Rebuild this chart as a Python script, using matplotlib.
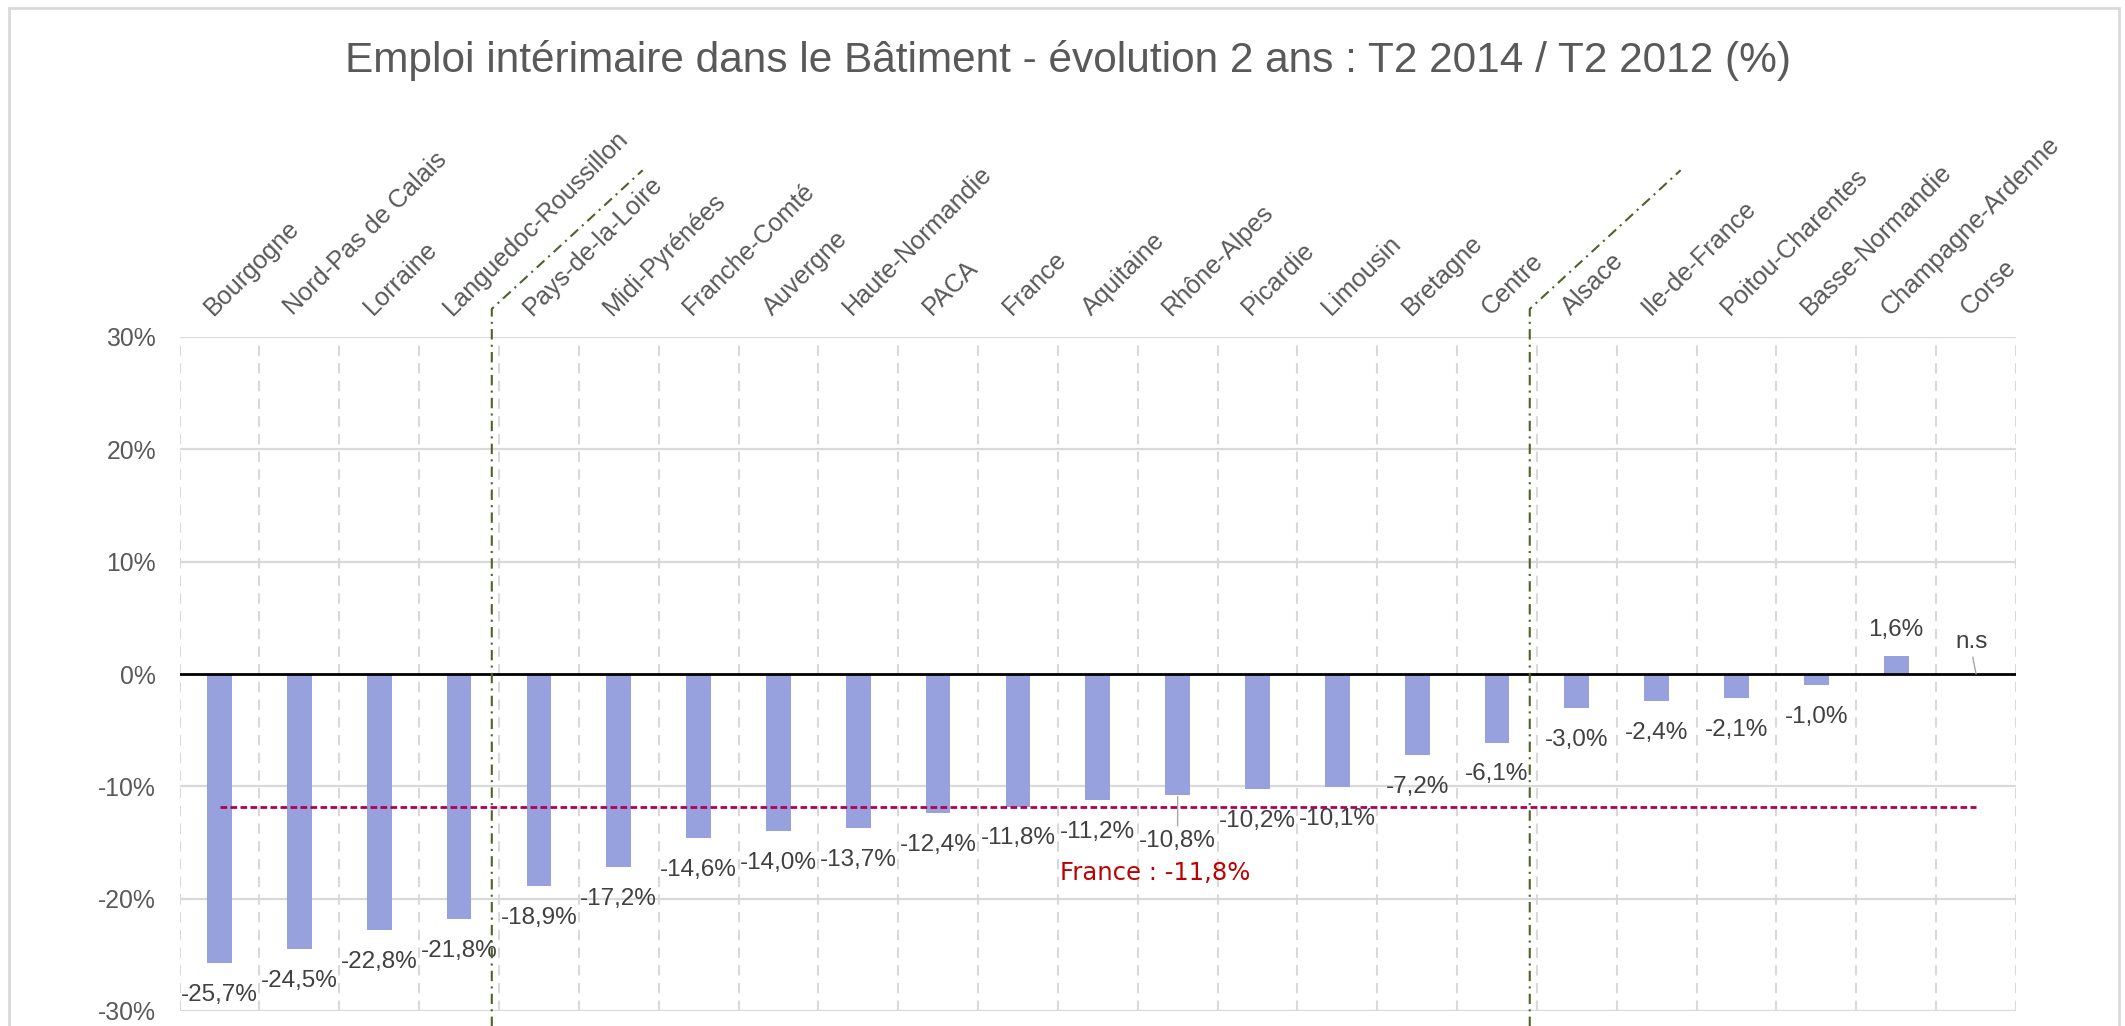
import matplotlib
matplotlib.use("Agg")
import matplotlib.pyplot as plt
from matplotlib.patches import Rectangle
import numpy as np

plt.rcParams['font.family'] = ['Liberation Sans', 'DejaVu Sans']

# ---------------- data ----------------
regions = ["Bourgogne", "Nord-Pas de Calais", "Lorraine", "Languedoc-Roussillon",
           "Pays-de-la-Loire", "Midi-Pyrénées", "Franche-Comté", "Auvergne",
           "Haute-Normandie", "PACA", "France", "Aquitaine", "Rhône-Alpes",
           "Picardie", "Limousin", "Bretagne", "Centre", "Alsace", "Ile-de-France",
           "Poitou-Charentes", "Basse-Normandie", "Champagne-Ardenne", "Corse"]
values = [-25.7, -24.5, -22.8, -21.8, -18.9, -17.2, -14.6, -14.0, -13.7, -12.4,
          -11.8, -11.2, -10.8, -10.2, -10.1, -7.2, -6.1, -3.0, -2.4, -2.1, -1.0,
          1.6, None]
not_significant_label = "n.s"
france_value = -11.8
y_ticks = [-30, -20, -10, 0, 10, 20, 30]
group_starts = [4, 17]   # first region of each new group
title = "Emploi intérimaire dans le Bâtiment - évolution 2 ans : T2 2014 / T2 2012 (%)"


def fmt(v):
    return f"{v:.1f}%".replace(".", ",")


W, H = 2125, 1026
fig = plt.figure(figsize=(W / 100, H / 100), dpi=100)
left, right, top, bottom = 179.6, 2016, 337, 1011
ax = fig.add_axes([left / W, 1 - bottom / H, (right - left) / W, (bottom - top) / H])

n = len(regions)
x = np.arange(n)
ax.set_xlim(-0.5, n - 0.5)
ax.set_ylim(y_ticks[0], y_ticks[-1])

# grid
for t in y_ticks:
    if t == 0:
        continue
    ax.axhline(t, color="#D9D9D9", lw=1.6, zorder=1)
for b in np.arange(-0.5, n):
    ax.axvline(b, color="#D9D9D9", lw=1.5, ls=(0, (5, 3.5)), zorder=1)

# bars
bx = [i for i, v in zip(x, values) if v is not None]
bv = [v for v in values if v is not None]
ax.bar(bx, bv, width=0.31, color="#97A1DD", zorder=3)

ax.axhline(0, color="black", lw=2.0, zorder=4)

# France reference line
ax.plot([x[0], x[-1]], [france_value, france_value], color="#B0004F", lw=2.0,
        ls=(0, (2.4, 1.2)), zorder=5)
ax.text(11.72, -17.7, f"France : {fmt(france_value)}", color="#C00000",
        ha="center", va="center", fontsize=17.5, family=["DejaVu Sans"], zorder=6)

# data labels
extra_drop = {12: -10}
for i, v in zip(x, values):
    if v is None:
        ax.annotate(not_significant_label, xy=(i, 0), xytext=(-3, 23),
                    textcoords="offset points", ha="center", va="center",
                    fontsize=17.5, color="#404040", zorder=6,
                    arrowprops=dict(arrowstyle="-", color="#A6A6A6", lw=1,
                                    shrinkA=1, shrinkB=0, relpos=(0.5, 0)))
        continue
    off = 19 if v > 0 else -23
    if i in extra_drop:
        off += extra_drop[i]
        ax.annotate(fmt(v), xy=(i, v), xytext=(0, off), textcoords="offset points",
                    ha="center", va="center", fontsize=17.5, color="#404040", zorder=6,
                    arrowprops=dict(arrowstyle="-", color="#A6A6A6", lw=1,
                                    shrinkA=1, shrinkB=1, relpos=(0.5, 1)))
    else:
        ax.annotate(fmt(v), xy=(i, v), xytext=(0, off), textcoords="offset points",
                    ha="center", va="center", fontsize=17.5, color="#404040", zorder=6)

# category labels at the top
for i, name in zip(x, regions):
    ax.annotate(name, xy=(i, 1), xycoords=("data", "axes fraction"),
                xytext=(-4.5, 15), textcoords="offset points", rotation=45,
                rotation_mode="anchor", ha="left", va="baseline", fontsize=18.2,
                color="#595959", annotation_clip=False)

# group separators
for g in group_starts:
    xv = g - 0.5 - 0.09
    ax.plot([xv, xv, xv + 1.89], [-31.5, 32.5, 44.85], color="#4F6228", lw=1.5,
            ls=(0, (5, 2.5, 1, 2.5)), clip_on=False, zorder=6)

# axes styling
for s in ax.spines.values():
    s.set_visible(False)
ax.set_xticks([])
ax.set_yticks(y_ticks)
ax.set_yticklabels([f"{t}%" for t in y_ticks], fontsize=17.8, color="#595959")
ax.tick_params(axis="y", length=0, pad=17)

# title and border
fig.text(1068 / W, 1 - 72 / H, title, ha="center", va="baseline", fontsize=30.5,
         color="#595959")
fig.add_artist(Rectangle((9 / W, -0.05), (2119 - 9) / W, 1.05 - 8 / H,
                         transform=fig.transFigure, fill=False,
                         edgecolor="#D9D9D9", lw=2))

fig.savefig("out.png", dpi=100)
